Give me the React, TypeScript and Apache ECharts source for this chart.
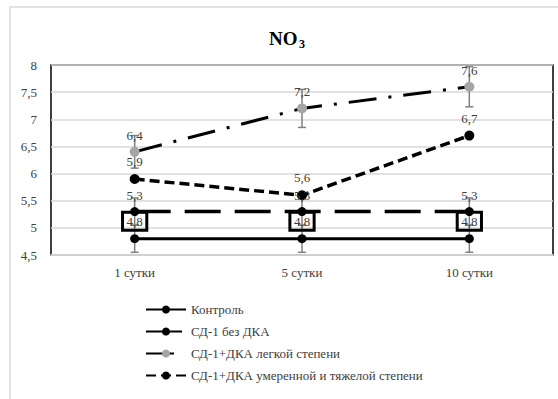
import React, { useEffect, useRef } from "react";
import * as echarts from "echarts";

const categories = ["1 сутки", "5 сутки", "10 сутки"];
const controlValues = [4.8, 4.8, 4.8];
const sd1Values = [5.3, 5.3, 5.3];
const mildValues = [6.4, 7.2, 7.6];
const severeValues = [5.9, 5.6, 6.7];
const controlErr = [0.25, 0.25, 0.25];
const sd1Err = [0.25, 0.25, 0.25];
const mildErr = [0.3, 0.35, 0.37];
const seriesNames = [
  "Контроль",
  "СД-1 без ДКА",
  "СД-1+ДКА легкой степени",
  "СД-1+ДКА умеренной и тяжелой степени",
];

const FONT = "serif";
const fmt = (v: number) => String(v).replace(".", ",");

function errData(values: number[], errs: number[]) {
  return values.map((v, i) => [i, +(v - errs[i]).toFixed(3), +(v + errs[i]).toFixed(3)]);
}

export default function App() {
  const ref = useRef<HTMLDivElement>(null);
  useEffect(() => {
    if (!ref.current) return;
    const chart = echarts.init(ref.current, undefined, { renderer: "svg" });
    const labelBase = {
      show: true,
      position: "top" as const,
      fontFamily: FONT,
      fontSize: 13,
      color: "#404040",
      formatter: (p: any) => fmt(p.value),
    };
    const errSeries = [
      ...errData(controlValues, controlErr),
      ...errData(sd1Values, sd1Err),
      ...errData(mildValues, mildErr),
    ];
    chart.setOption({
      animation: false,
      backgroundColor: "#fff",
      textStyle: { fontFamily: FONT },
      graphic: [
        {
          type: "rect",
          shape: { x: 10, y: 7, width: 600, height: 420 },
          style: { fill: "none", stroke: "#d9d9d9", lineWidth: 1.5 },
          z: -1,
        },
        {
          type: "text",
          x: 269,
          y: 38,
          style: {
            text: "NO",
            fontFamily: FONT,
            fontSize: 19,
            fontWeight: "bold",
            fill: "#000",
            verticalAlign: "middle",
          },
        },
        {
          type: "text",
          x: 299,
          y: 44,
          style: {
            text: "3",
            fontFamily: FONT,
            fontSize: 12,
            fontWeight: "bold",
            fill: "#000",
            verticalAlign: "middle",
          },
        },
      ],
      legend: {
        data: seriesNames,
        orient: "vertical",
        left: 140,
        top: 298,
        itemWidth: 40,
        itemHeight: 10,
        itemGap: 9,
        textStyle: { fontFamily: FONT, fontSize: 13, color: "#404040" },
      },
      grid: {
        left: 51,
        right: 5,
        top: 65,
        bottom: 144,
        show: true,
        borderColor: "#000",
        borderWidth: 1.5,
      },
      xAxis: {
        type: "category",
        data: categories,
        boundaryGap: true,
        axisLine: { lineStyle: { color: "#d9d9d9", width: 1.5 } },
        axisTick: { show: false },
        axisLabel: {
          fontFamily: FONT,
          fontSize: 13,
          color: "#404040",
          margin: 11,
        },
      },
      yAxis: {
        type: "value",
        min: 4.5,
        max: 8,
        interval: 0.5,
        axisLine: { show: false },
        axisTick: { show: false },
        splitLine: { lineStyle: { color: "#d9d9d9", width: 1.5 } },
        axisLabel: {
          fontFamily: FONT,
          fontSize: 13,
          color: "#404040",
          margin: 14,
          formatter: (v: number) => fmt(v),
        },
      },
      series: [
        {
          name: "errors",
          type: "custom",
          z: 1,
          data: errSeries,
          encode: { x: 0, y: [1, 2] },
          renderItem: (params: any, api: any) => {
            const x = api.value(0);
            const lo = api.coord([x, api.value(1)]);
            const hi = api.coord([x, api.value(2)]);
            const cx = lo[0];
            const style = { stroke: "#808080", lineWidth: 1.5 };
            return {
              type: "group",
              children: [
                { type: "line", shape: { x1: cx, y1: hi[1], x2: cx, y2: lo[1] }, style },
                { type: "line", shape: { x1: cx - 4, y1: hi[1], x2: cx + 4, y2: hi[1] }, style },
                { type: "line", shape: { x1: cx - 4, y1: lo[1], x2: cx + 4, y2: lo[1] }, style },
              ],
            };
          },
        },
        {
          name: seriesNames[0],
          type: "line",
          z: 3,
          data: controlValues,
          symbol: "circle",
          symbolSize: 9,
          itemStyle: { color: "#000" },
          lineStyle: { color: "#000", width: 3, type: "solid" },
          label: {
            ...labelBase,
            distance: 4,
            borderColor: "#000",
            borderWidth: 1.5,
            padding: [3, 4, 2, 4],
            backgroundColor: "transparent",
          },
        },
        {
          name: seriesNames[1],
          type: "line",
          z: 3,
          data: sd1Values,
          symbol: "circle",
          symbolSize: 9,
          itemStyle: { color: "#000" },
          lineStyle: { color: "#000", width: 3.5, type: [36, 14] },
          label: { ...labelBase, distance: 5 },
        },
        {
          name: seriesNames[2],
          type: "line",
          z: 3,
          data: mildValues,
          symbol: "circle",
          symbolSize: 10,
          itemStyle: { color: "#a5a5a5" },
          lineStyle: { color: "#000", width: 3, type: [28, 12, 3, 12] },
          label: { ...labelBase, distance: 5 },
        },
        {
          name: seriesNames[3],
          type: "line",
          z: 3,
          data: severeValues,
          symbol: "circle",
          symbolSize: 10,
          itemStyle: { color: "#000" },
          lineStyle: { color: "#000", width: 3.5, type: [10, 5] },
          label: { ...labelBase, distance: 6 },
        },
      ],
    });
    return () => chart.dispose();
  }, []);
  return (
    <div
      ref={ref}
      style={{ position: "fixed", left: 0, top: 0, width: 558, height: 399, background: "#fff" }}
    />
  );
}
